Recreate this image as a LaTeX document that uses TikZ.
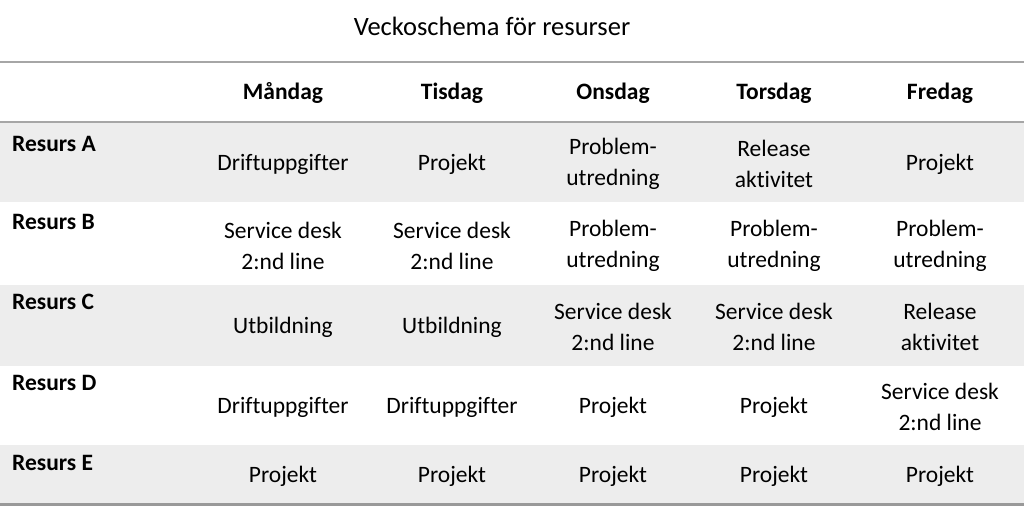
\documentclass[tikz,border=0pt]{standalone}
\usepackage{fontspec}
\setmainfont[Ligatures=NoCommon]{Carlito}
\usepackage{tikz}
\definecolor{rowgray}{HTML}{EDEDED}
\definecolor{rulegray}{HTML}{A6A6A6}
\definecolor{bottomgray}{HTML}{999999}

\begin{document}
\begin{tikzpicture}[x=1pt,y=-1pt,every node/.style={inner sep=0pt,align=center,font=\fontsize{23.5}{31}\selectfont}]
    \tikzstyle{day}=[anchor=base,font=\fontsize{23.5}{31}\selectfont\bfseries]
    \tikzstyle{res}=[anchor=base west,font=\fontsize{23.5}{31}\selectfont\bfseries]
    \tikzstyle{cell}=[anchor=center]
    \useasboundingbox (0,0) rectangle (1024,506);
    % shaded rows
    \fill[rowgray] (0,122) rectangle (1024,202);
    \fill[rowgray] (0,285) rectangle (1024,366);
    \fill[rowgray] (0,445) rectangle (1024,503);
    % rules
    \draw[rulegray, line width=1.2pt] (0,62) -- (1024,62);
    \draw[rulegray, line width=1.2pt] (0,122) -- (1024,122);
    \draw[bottomgray, line width=2.5pt] (0,504.5) -- (1024,504.5);
    % title
    \node[anchor=base, font=\fontsize{26.5}{31}\selectfont] (title) at (492, 35){Veckoschema för resurser};
    % header
    \node[day] (mon) at (283, 99){Måndag};
    \node[day] (tue) at (452, 99){Tisdag};
    \node[day] (wed) at (613, 99){Onsdag};
    \node[day] (thu) at (774, 99){Torsdag};
    \node[day] (fri) at (940, 99){Fredag};
    % resources
    \node[res] (ra) at (12, 151){Resurs A};
    \node[res] (rb) at (12, 229){Resurs B};
    \node[res] (rc) at (12, 309){Resurs C};
    \node[res] (rd) at (12, 390){Resurs D};
    \node[res] (re) at (12, 470){Resurs E};
    % Resurs A
    \node[cell] (a1) at (283, 164){Driftuppgifter};
    \node[cell] (a2) at (452, 164){Projekt};
    \node[cell] (a3) at (613, 164){Problem-\\utredning};
    \node[cell] (a4) at (774, 164){Release\\aktivitet};
    \node[cell] (a5) at (940, 164){Projekt};
    % Resurs B
    \node[cell] (b1) at (283, 246){Service desk\\2:nd line};
    \node[cell] (b2) at (452, 246){Service desk\\2:nd line};
    \node[cell] (b3) at (613, 246){Problem-\\utredning};
    \node[cell] (b4) at (774, 246){Problem-\\utredning};
    \node[cell] (b5) at (940, 246){Problem-\\utredning};
    % Resurs C
    \node[cell] (c1) at (283, 327){Utbildning};
    \node[cell] (c2) at (452, 327){Utbildning};
    \node[cell] (c3) at (613, 327){Service desk\\2:nd line};
    \node[cell] (c4) at (774, 327){Service desk\\2:nd line};
    \node[cell] (c5) at (940, 327){Release\\aktivitet};
    % Resurs D
    \node[cell] (d1) at (283, 407){Driftuppgifter};
    \node[cell] (d2) at (452, 407){Driftuppgifter};
    \node[cell] (d3) at (613, 407){Projekt};
    \node[cell] (d4) at (774, 407){Projekt};
    \node[cell] (d5) at (940, 407){Service desk\\2:nd line};
    % Resurs E
    \node[cell] (e1) at (283, 476){Projekt};
    \node[cell] (e2) at (452, 476){Projekt};
    \node[cell] (e3) at (613, 476){Projekt};
    \node[cell] (e4) at (774, 476){Projekt};
    \node[cell] (e5) at (940, 476){Projekt};
\end{tikzpicture}
\end{document}
